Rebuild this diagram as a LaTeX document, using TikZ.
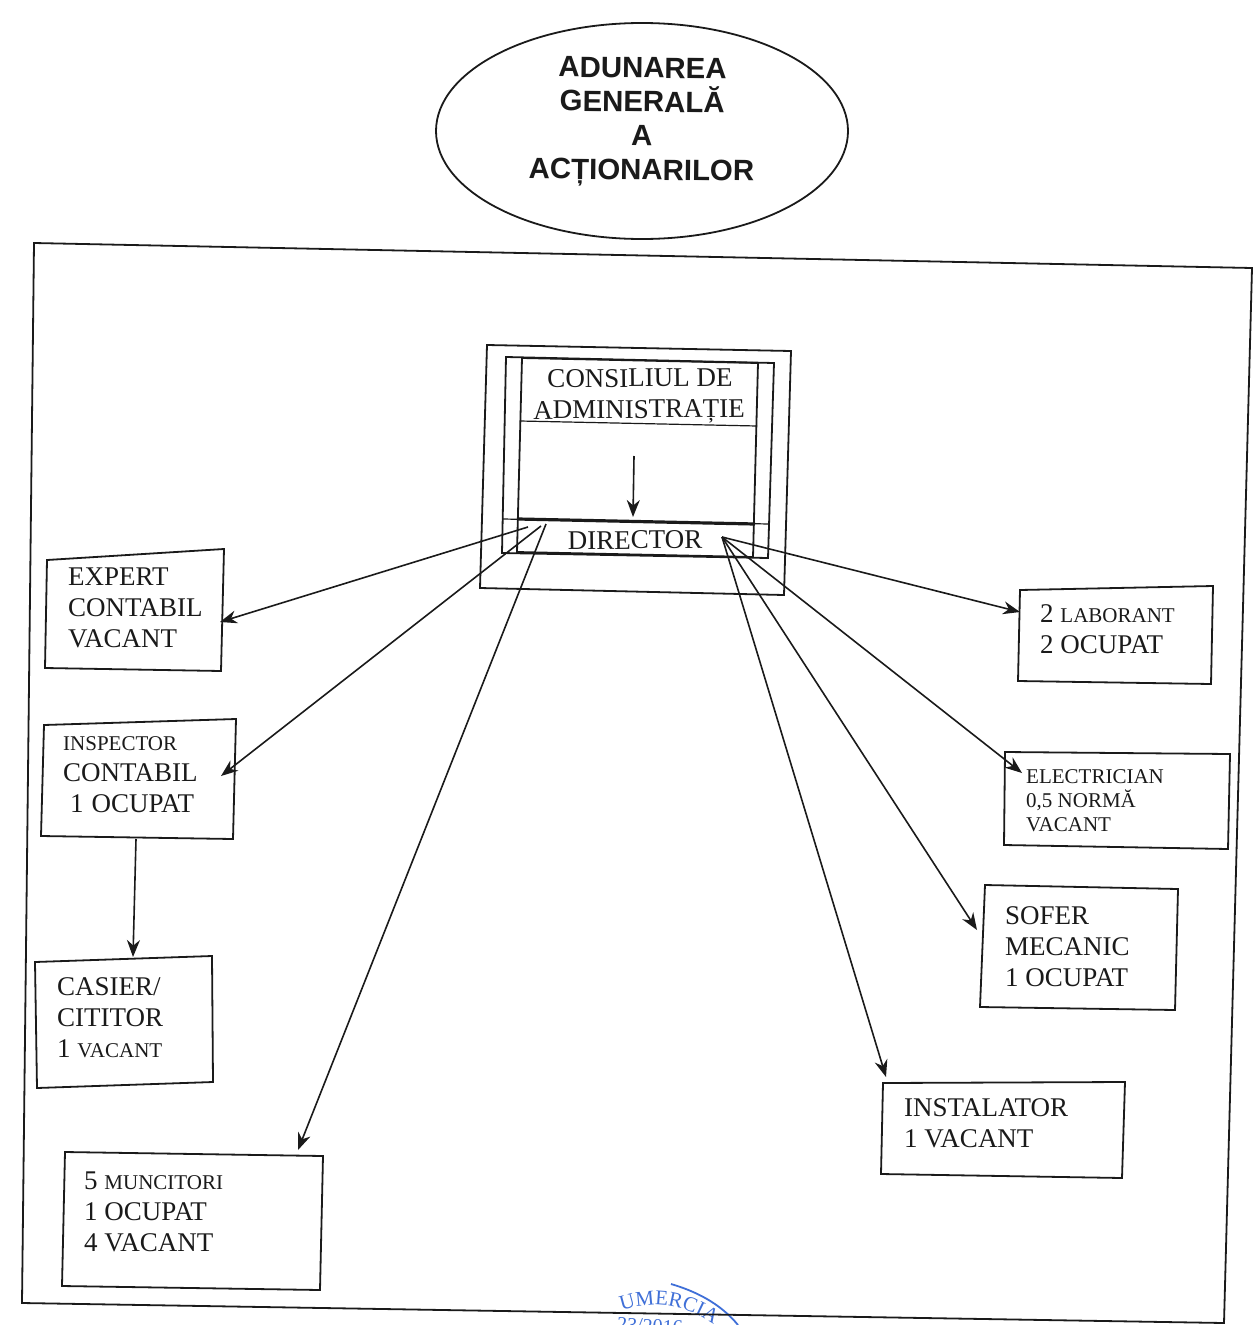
\documentclass[tikz,border=0pt]{standalone}
\usepackage{fontspec}
\setmainfont{Liberation Serif}
\newfontfamily\headfont{Liberation Sans}
\usetikzlibrary{shapes.geometric,arrows.meta,decorations.text}
\definecolor{ink}{HTML}{1A1A1A}
\definecolor{stampblue}{HTML}{3F6FD8}
\newcommand{\sm}[1]{{\fontsize{21}{31}\selectfont #1}}
\newcommand{\qbox}[5]{%
  \coordinate (#1a) at #2; \coordinate (#1b) at #3; \coordinate (#1c) at #4; \coordinate (#1d) at #5;
  \draw[boxline] (#1a) -- (#1b) -- (#1c) -- (#1d) -- cycle;}
\tikzset{
  boxline/.style={draw=ink,line width=1.8pt,line join=miter},
  thinline/.style={draw=ink,line width=1.2pt},
  conn/.style={draw=ink,line width=1.6pt,-{Stealth[length=17pt,width=13pt]}},
  lbl/.style={anchor=north west,inner sep=0pt,align=left,text=ink,font=\fontsize{27}{31}\selectfont},
  ctr/.style={inner sep=0pt,text=ink,font=\fontsize{27}{31}\selectfont},
  smalllbl/.style={anchor=north west,inner sep=0pt,align=left,text=ink,font=\fontsize{21}{24}\selectfont},
}
\begin{document}
\begin{tikzpicture}[x=1pt,y=-1pt]
\useasboundingbox (0,0) rectangle (1256,1325);
\fill[white] (0,0) rectangle (1256,1325);
% top ellipse
\node[ellipse,draw=ink,line width=1.8pt,minimum width=412pt,minimum height=216pt,inner sep=0pt] (aga) at (642,131) {};
\node[inner sep=0pt,align=center,text=ink,font=\headfont\bfseries\fontsize{29.4}{34}\selectfont,rotate=-0.6] (agat) at (642,122)
      {ADUNAREA\\GENERALĂ\\A\\ACȚIONARILOR};
% stamp
\begin{scope}
\clip (0,0) rectangle (1256,1325);
\draw[stampblue,line width=1.8pt] (671,1284) .. controls (695,1291) and (720,1303) .. (738,1325);
\path[decorate,decoration={text along path,text align=center,
   text={|\fontsize{21}{24}\selectfont\color{stampblue}|UMERCIA}}]
   (613,1314) .. controls (650,1297) and (690,1304) .. (721,1330);
\node[inner sep=0pt,text=stampblue,font=\fontsize{20}{22}\selectfont,rotate=-3] (stampno) at (650,1326) {23/2016};
\end{scope}
% frame
\qbox{frame}{(34,243)}{(1252,268)}{(1224,1323)}{(22,1303)}
% central nested boxes
\qbox{outer}{(487,345)}{(791,351)}{(784,595)}{(480,588)}
\qbox{mid}{(506,357)}{(774,363)}{(768,558)}{(502,553)}
\qbox{inner}{(522,358)}{(758,363)}{(753,557)}{(517,552)}
\coordinate (hl) at (520,421); \coordinate (hr) at (757,426);
\draw[thinline] (hl) -- (hr);
\coordinate (xl) at (503,519); \coordinate (xr) at (769,524);
\draw[thinline] (xl) -- (xr);
\coordinate (tl) at (518,519); \coordinate (tr) at (755,524);
\draw[draw=ink,line width=3.2pt] (tl) -- (tr);
\node[ctr,rotate=0.6] (cons1) at (640,378) {CONSILIUL DE};
\node[ctr,rotate=0.6] (cons2) at (639,412) {ADMINISTRAȚIE};
\node[ctr,rotate=0.6] (dir) at (635,540) {DIRECTOR};
\coordinate (ca) at (634,456); \coordinate (cb) at (633,517);
\draw[conn] (ca) -- (cb);
% boxes
\qbox{exp}{(47,560)}{(224,549)}{(221,671)}{(45,668)}
\qbox{insp}{(44,725)}{(236,719)}{(233,839)}{(41,836)}
\qbox{cas}{(35,962)}{(212,956)}{(213,1082)}{(37,1088)}
\qbox{mun}{(65,1152)}{(323,1156)}{(320,1290)}{(62,1286)}
\qbox{lab}{(1020,590)}{(1213,586)}{(1211,684)}{(1018,681)}
\qbox{ele}{(1005,752)}{(1230,754)}{(1228,849)}{(1004,845)}
\qbox{sof}{(985,885)}{(1178,889)}{(1175,1010)}{(980,1007)}
\qbox{ins}{(883,1083)}{(1125,1082)}{(1122,1178)}{(881,1174)}
% labels
\node[lbl] (texp) at (68,568) {EXPERT\\CONTABIL\\VACANT};
\node[lbl] (tinsp) at (63,736) {\sm{INSPECTOR}\\CONTABIL\\\hspace*{7pt}1\hspace{8pt}OCUPAT};
\node[lbl] (tcas) at (57,977) {CASIER/\\CITITOR\\1 \sm{VACANT}};
\node[lbl] (tmun) at (84,1172) {5 \sm{MUNCITORI}\\1 OCUPAT\\4 VACANT};
\node[lbl] (tlab) at (1040,604) {2 \sm{LABORANT}\\2 OCUPAT};
\node[smalllbl] (tele) at (1026,769) {ELECTRICIAN\\0,5 NORMĂ\\VACANT};
\node[lbl] (tsof) at (1005,906) {SOFER\\MECANIC\\1 OCUPAT};
\node[lbl] (tins) at (904,1098) {INSTALATOR\\1 VACANT};
% connector ends
\coordinate (dl1) at (528,527); \coordinate (dl2) at (541,526); \coordinate (dl3) at (546,524);
\coordinate (dr) at (722,537);
\coordinate (pexp) at (220,622); \coordinate (pinsp) at (221,776); \coordinate (pmun) at (298,1150);
\coordinate (plab) at (1020,612); \coordinate (pele) at (1022,773); \coordinate (psof) at (977,930); \coordinate (pins) at (886,1077);
\coordinate (insb) at (136,839); \coordinate (cast) at (133,957);
\draw[conn] (dl1) -- (pexp);
\draw[conn] (dl2) -- (pinsp);
\draw[conn] (dl3) -- (pmun);
\draw[conn] (dr) -- (plab);
\draw[conn] (dr) -- (pele);
\draw[conn] (dr) -- (psof);
\draw[conn] (dr) -- (pins);
\draw[conn] (insb) -- (cast);
\end{tikzpicture}
\end{document}
